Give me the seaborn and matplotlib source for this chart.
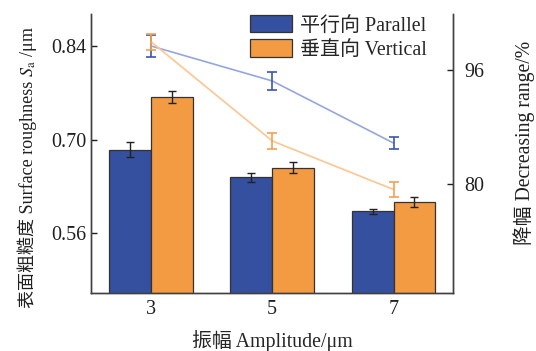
import numpy as np
import pandas as pd
import matplotlib
matplotlib.use("Agg")
import matplotlib.pyplot as plt
import seaborn as sns

# Amplitude groups and series
amplitudes = ["3", "5", "7"]
directions = ["平行向 Parallel", "垂直向 Vertical"]

# Surface roughness Sa (μm), mean and standard deviation
sa_parallel = [0.685, 0.6435, 0.5925]
sa_parallel_err = [0.011, 0.0065, 0.004]
sa_vertical = [0.7635, 0.658, 0.6064]
sa_vertical_err = [0.009, 0.0078, 0.007]

# Decreasing range (%), mean and standard deviation
dr_parallel = [99.4, 94.5, 85.8]
dr_parallel_err = [1.6, 1.2, 0.8]
dr_vertical = [100.0, 86.1, 79.3]
dr_vertical_err = [1.1, 1.1, 1.1]

bar_colors = ["#34509f", "#f29b43"]
err_colors = ["#3a56b2", "#f5a04f"]
line_colors = ["#95a6dc", "#fbc692"]

sns.set_theme(style="ticks")
plt.rcParams["font.family"] = ["Liberation Serif", "Noto Sans CJK SC"]
plt.rcParams["mathtext.fontset"] = "stix"
plt.rcParams["axes.linewidth"] = 1.0
plt.rcParams["axes.edgecolor"] = "#404040"

df = pd.DataFrame({
    "amp": amplitudes * 2,
    "dir": [directions[0]] * 3 + [directions[1]] * 3,
    "sa": sa_parallel + sa_vertical,
})

fig = plt.figure(figsize=(5.36, 3.51), dpi=100)
ax = fig.add_axes([0.1707, 0.1652, 0.6744, 0.7948])

sns.barplot(data=df, x="amp", y="sa", hue="dir", palette=bar_colors,
            width=0.69, gap=0, errorbar=None, edgecolor="#333333",
            linewidth=0.9, saturation=1, ax=ax)

# error bars on each bar, placed at the bar centres
sa_err = sa_parallel_err + sa_vertical_err
sa_vals = sa_parallel + sa_vertical
bars = [p for p in ax.patches if p.get_height() > 0][:6]
centers = [p.get_x() + p.get_width() / 2 for p in bars]
ax.errorbar(centers, sa_vals, yerr=sa_err, fmt="none", ecolor="#222222",
            elinewidth=1.0, capsize=2.8, capthick=1.0, zorder=5)

ax.set_ylim(0.47, 0.888)
ax.set_yticks([0.56, 0.70, 0.84])
ax.set_yticklabels(["0.56", "0.70", "0.84"])
ax.set_xlim(-0.49, 2.49)
ax.set_xlabel("振幅 Amplitude/μm", fontsize=14.3, labelpad=8)
ax.set_ylabel("")
ax.tick_params(axis="both", direction="in", length=4, width=1,
               labelsize=14.4, colors="#202020")
ax.tick_params(axis="x", pad=5)
sns.despine(ax=ax, top=True, right=False)

leg = ax.legend(loc="upper left", bbox_to_anchor=(0.438, 0.997), frameon=False,
                fontsize=14.4, handlelength=2.1, handleheight=0.95,
                handletextpad=0.4, labelspacing=0.2, borderpad=0,
                borderaxespad=0)
for h in leg.legend_handles:
    h.set_edgecolor("#333333")

# decreasing range on a secondary axis
ax2 = ax.twinx()
xpos = np.arange(len(amplitudes))
for vals, errs, lc, ec in [(dr_parallel, dr_parallel_err, line_colors[0], err_colors[0]),
                           (dr_vertical, dr_vertical_err, line_colors[1], err_colors[1])]:
    sns.lineplot(x=xpos, y=vals, color=lc, linewidth=1.2, ax=ax2)
    ax2.errorbar(xpos, vals, yerr=errs, fmt="none", ecolor=ec,
                 elinewidth=1.2, capsize=3.8, capthick=1.2)
ax2.set_ylim(64.8, 103.87)
ax2.set_yticks([80, 96])
ax2.set_ylabel("")
ax2.tick_params(axis="y", direction="in", length=4, width=1,
                labelsize=14.4, colors="#202020", pad=8)
ax2.spines["top"].set_visible(False)
ax2.set_xlim(-0.49, 2.49)

fig.text(524 / 536, 1 - 143 / 351, "降幅 Decreasing range/%", rotation=90,
         ha="center", va="center", fontsize=14.2, color="#202020")

# y label: mixed CJK / Latin text followed by the Sa symbol
t1 = fig.text(33 / 536, 1 - 308 / 351, "表面粗糙度 Surface roughness",
              rotation=90, rotation_mode="anchor", ha="left", va="baseline",
              fontsize=13, color="#202020")
ax.annotate(r" $S_\mathrm{a}$ /μm", xy=(33 / 536, 1.0),
            xycoords=("figure fraction", t1), rotation=90,
            rotation_mode="anchor", ha="left", va="baseline",
            fontsize=13, color="#202020", annotation_clip=False)

fig.savefig("out.png", dpi=100)
